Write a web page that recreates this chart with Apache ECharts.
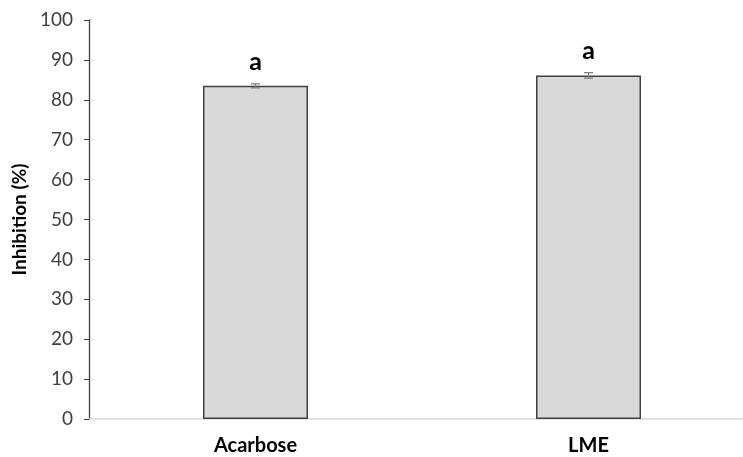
<!DOCTYPE html>
<html><head><meta charset="utf-8">
<script src="https://cdn.jsdelivr.net/npm/echarts@6/dist/echarts.min.js"></script>
<style>html,body{margin:0;padding:0;background:#fff}#c{width:743px;height:457px}</style>
</head><body><div id="c"></div>
<script>
const categories = ['Acarbose', 'LME'];
const inhibition = [83.5, 86.1];
const errors = [0.5, 0.7];
const letters = ['a', 'a'];
const yTicks = [0, 10, 20, 30, 40, 50, 60, 70, 80, 90, 100];

const chart = echarts.init(document.getElementById('c'));
const font = 'Lato, "Open Sans", sans-serif';
chart.setOption({
  animation: false,
  grid: { left: 89, width: 666, top: 20, height: 399, outerBoundsMode: 'none', containLabel: false },
  xAxis: {
    type: 'category', data: categories,
    axisLine: { lineStyle: { color: '#d9d9d9', width: 1.5 } },
    axisTick: { show: false },
    axisLabel: { color: '#000', fontFamily: font, fontWeight: 'bold', fontSize: 20, margin: 17 }
  },
  yAxis: {
    type: 'value', min: yTicks[0], max: yTicks[yTicks.length - 1], interval: 10,
    name: 'Inhibition (%)', nameLocation: 'middle', nameGap: 59, nameRotate: 90,
    nameTextStyle: { color: '#000', fontFamily: font, fontWeight: 'bold', fontSize: 19 },
    axisLine: { show: true, lineStyle: { color: '#404040', width: 1.3 } },
    axisTick: { show: true, length: 5, lineStyle: { color: '#404040' } },
    splitLine: { show: false },
    axisLabel: { color: '#404040', fontFamily: font, fontSize: 19, margin: 16 }
  },
  series: [
    {
      type: 'bar', data: inhibition, barWidth: 105,
      itemStyle: { color: '#d9d9d9', borderColor: '#404040', borderWidth: 1.5 }
    },
    {
      type: 'custom',
      data: inhibition.map((v, i) => [i, v, errors[i]]),
      renderItem: function (params, api) {
        const x = api.value(0), v = api.value(1), e = api.value(2);
        const hi = api.coord([x, v + e]);
        const lo = api.coord([x, v - e]);
        const capW = 9;
        const st = { stroke: '#808080', lineWidth: 1.3 };
        return {
          type: 'group',
          children: [
            { type: 'line', shape: { x1: hi[0], y1: hi[1], x2: lo[0], y2: lo[1] }, style: st },
            { type: 'line', shape: { x1: hi[0] - capW / 2, y1: hi[1], x2: hi[0] + capW / 2, y2: hi[1] }, style: st },
            { type: 'line', shape: { x1: lo[0] - capW / 2, y1: lo[1], x2: lo[0] + capW / 2, y2: lo[1] }, style: st },
            { type: 'text', style: { x: hi[0], y: hi[1] - 9, text: letters[params.dataIndex], textAlign: 'center', textVerticalAlign: 'bottom', fill: '#000', font: 'bold 25px ' + font } }
          ]
        };
      },
      z: 5
    }
  ]
});
</script></body></html>
